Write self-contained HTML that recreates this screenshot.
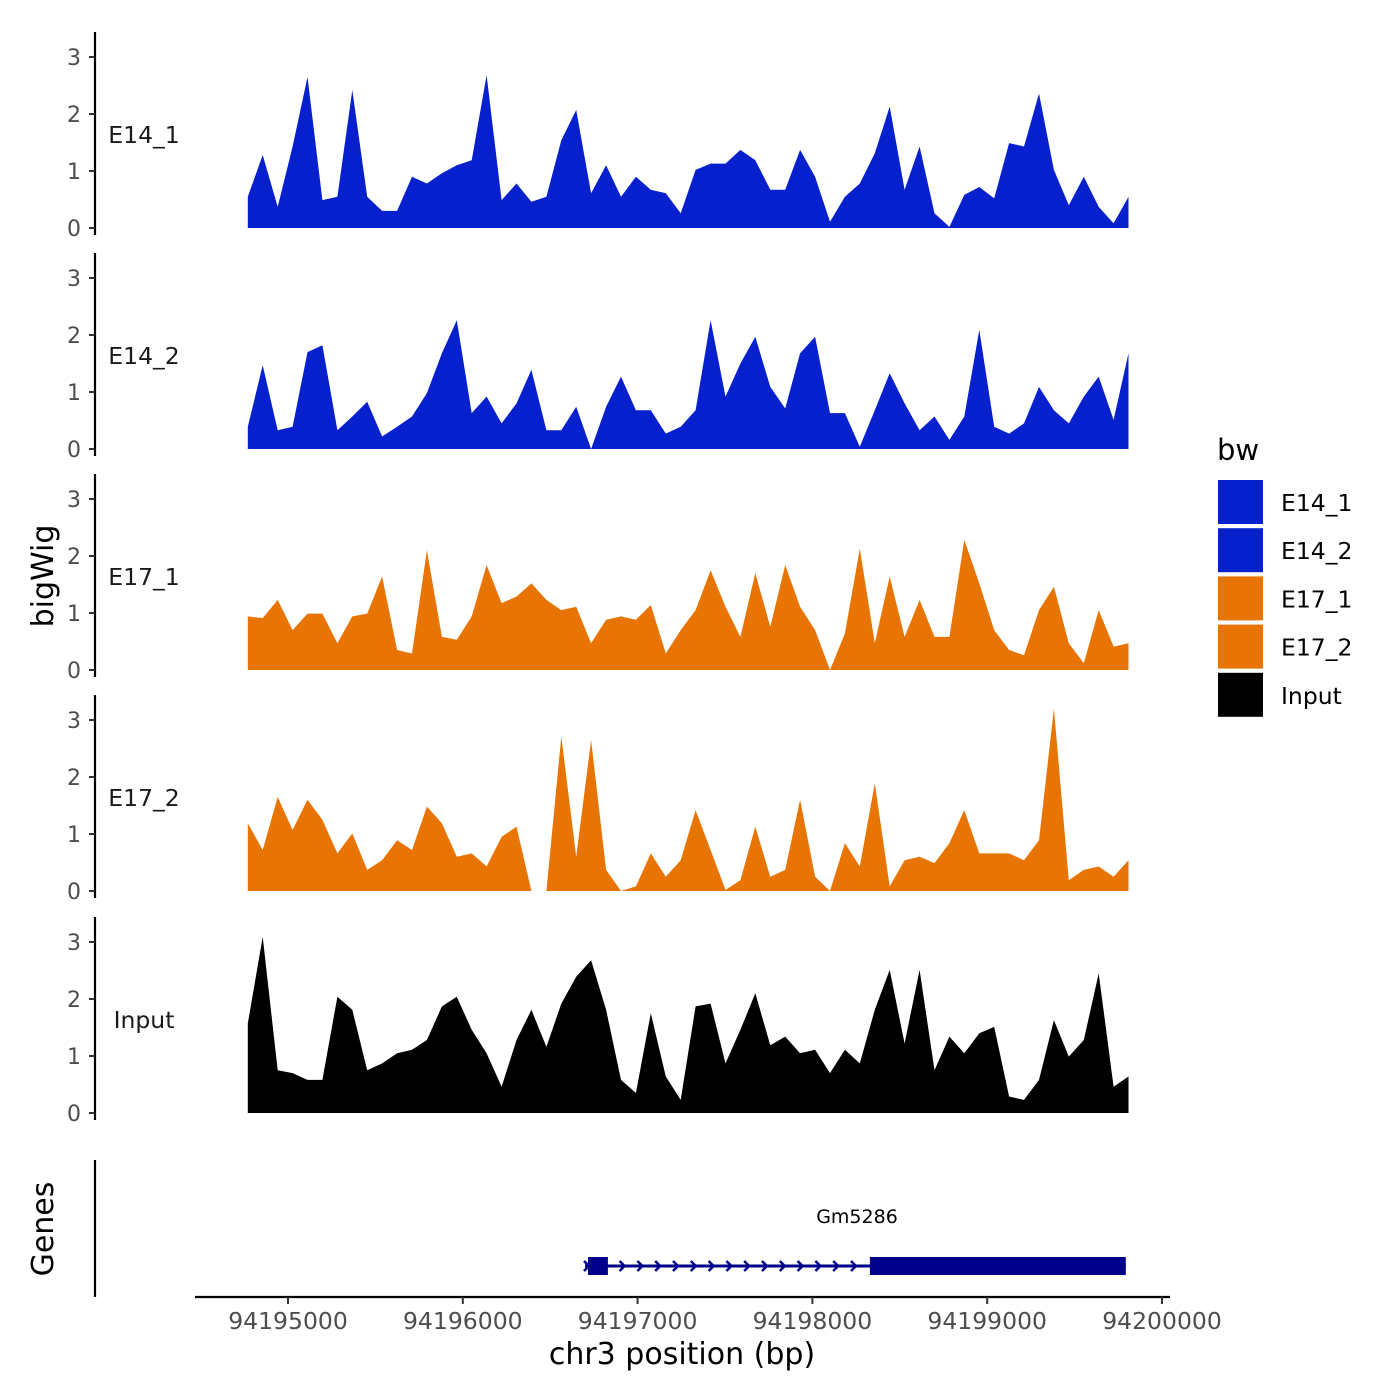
<!DOCTYPE html>
<html><head><meta charset="utf-8"><style>
html,body{margin:0;padding:0;background:#fff;}
svg{display:block;font-family:"DejaVu Sans","Liberation Sans",sans-serif;}
</style></head><body>
<svg id="chart" width="1400" height="1400" viewBox="0 0 1400 1400" xmlns="http://www.w3.org/2000/svg"></svg>
<script>
const trackNames = ["E14_1","E14_2","E17_1","E17_2","Input"];
const trackColors = ["#0520cc","#0520cc","#e87503","#e87503","#000000"];
const binStart = 94194770;
const binStep = 85.4;
const e14_1 = [0.55,1.28,0.37,1.43,2.65,0.49,0.55,2.42,0.55,0.3,0.3,0.9,0.78,0.96,1.1,1.19,2.68,0.49,0.78,0.46,0.55,1.54,2.07,0.61,1.1,0.55,0.9,0.67,0.61,0.26,1.02,1.13,1.13,1.37,1.19,0.67,0.67,1.37,0.9,0.11,0.55,0.78,1.31,2.13,0.67,1.43,0.26,0.02,0.58,0.72,0.52,1.49,1.43,2.36,1.02,0.4,0.9,0.37,0.08,0.55];
const e14_2 = [0.39,1.47,0.33,0.39,1.7,1.82,0.33,0.57,0.83,0.22,0.39,0.57,0.98,1.68,2.26,0.63,0.92,0.45,0.8,1.39,0.33,0.33,0.74,0,0.74,1.27,0.68,0.68,0.27,0.39,0.68,2.26,0.92,1.5,1.97,1.09,0.71,1.68,1.97,0.63,0.63,0.04,0.68,1.33,0.8,0.33,0.57,0.16,0.57,2.09,0.39,0.27,0.45,1.09,0.68,0.45,0.92,1.27,0.51,1.68];
const e17_1 = [0.94,0.91,1.23,0.7,0.99,0.99,0.47,0.94,0.99,1.64,0.35,0.29,2.1,0.58,0.53,0.94,1.84,1.17,1.29,1.52,1.23,1.05,1.11,0.47,0.88,0.94,0.88,1.14,0.29,0.7,1.05,1.75,1.11,0.58,1.7,0.76,1.84,1.11,0.7,0,0.64,2.13,0.47,1.64,0.58,1.23,0.58,0.58,2.28,1.52,0.7,0.35,0.26,1.05,1.46,0.47,0.12,1.05,0.41,0.47];
const e17_2 = [1.19,0.72,1.65,1.07,1.6,1.25,0.66,1.01,0.37,0.54,0.89,0.72,1.48,1.19,0.6,0.66,0.43,0.95,1.13,0,0,2.71,0.6,2.65,0.37,0,0.08,0.66,0.25,0.54,1.42,0.72,0.02,0.19,1.13,0.25,0.37,1.6,0.25,0,0.84,0.43,1.89,0.08,0.54,0.6,0.49,0.84,1.42,0.66,0.66,0.66,0.54,0.89,3.2,0.19,0.37,0.43,0.25,0.54];
const inputVals = [1.57,3.09,0.75,0.7,0.58,0.58,2.04,1.81,0.75,0.87,1.05,1.11,1.28,1.87,2.04,1.46,1.05,0.46,1.28,1.81,1.16,1.92,2.39,2.68,1.81,0.58,0.35,1.75,0.64,0.23,1.87,1.92,0.87,1.46,2.1,1.19,1.34,1.05,1.11,0.7,1.11,0.87,1.81,2.51,1.22,2.51,0.75,1.34,1.05,1.4,1.51,0.29,0.23,0.58,1.63,0.99,1.28,2.45,0.46,0.64];
const yTicks = [0,1,2,3];
const xTicks = [94195000,94196000,94197000,94198000,94199000,94200000];
const geneName = "Gm5286";
const geneStart = 94196699, geneEnd = 94199793;
const exons = [[94196716,94196830],[94198329,94199793]];

const series = [e14_1,e14_2,e17_1,e17_2,inputVals];
const NS = "http://www.w3.org/2000/svg";
const svg = document.getElementById("chart");
function xs(bp){ return 288 + (bp - 94195000) * 874 / 5000; }
const panelZero = [228,449,670,891,1113];
const unit = 57;
function ys(p,v){ return panelZero[p] - v * unit; }
function mk(tag, attrs, parent){ const e=document.createElementNS(NS,tag); for(const k in attrs) e.setAttribute(k,attrs[k]); (parent||svg).appendChild(e); return e; }

series.forEach((vals,p)=>{
  const g = mk("g",{});
  
  
  const ax = mk("line",{x1:95,x2:95,y1:panelZero[p]-196,y2:panelZero[p]+7,stroke:"#000","stroke-width":2.2},g);
  
  
  yTicks.forEach(t=>{
    const tk = mk("line",{x1:89,x2:95,y1:ys(p,t),y2:ys(p,t),stroke:"#333","stroke-width":2},g);
    
    
    const tl = mk("text",{x:81,y:ys(p,t)+8,"text-anchor":"end","font-size":22,fill:"#4d4d4d"},g);
    tl.textContent = t;
    
    
  });
  const lab = mk("text",{x:144,y:panelZero[p]-85,"text-anchor":"middle","font-size":23.5,fill:"#1a1a1a"},g);
  lab.textContent = trackNames[p];
  
  
  let d = "M" + xs(binStart).toFixed(1) + "," + panelZero[p];
  vals.forEach((v,i)=>{ d += " L" + xs(binStart + i*binStep).toFixed(1) + "," + ys(p,v).toFixed(1); });
  d += " L" + xs(binStart + (vals.length-1)*binStep).toFixed(1) + "," + panelZero[p] + " Z";
  const area = mk("path",{d:d,fill:trackColors[p]},g);
  
  
});

const gg = mk("g",{});


const gax = mk("line",{x1:95,x2:95,y1:1160,y2:1297,stroke:"#000","stroke-width":2.2},gg);


const gl = mk("line",{x1:xs(geneStart),x2:xs(geneEnd),y1:1266,y2:1266,stroke:"#00008b","stroke-width":3},gg);


for(let x=xs(geneStart)+2; x<xs(exons[1][0]); x+=17.8){
  const c = mk("polyline",{points:`${x-3},${1261} ${x+2},${1266} ${x-3},${1271}`,fill:"none",stroke:"#00008b","stroke-width":2.5},gg);
  
  
}
exons.forEach(ex=>{
  const r = mk("rect",{x:xs(ex[0]),y:1257,width:xs(ex[1])-xs(ex[0]),height:18,fill:"#00008b"},gg);
  
  
});
const gn = mk("text",{x:857,y:1223,"text-anchor":"middle","font-size":19,fill:"#000"},gg);
gn.textContent = geneName;



const xg = mk("g",{});


const xl = mk("line",{x1:195,x2:1170,y1:1297,y2:1297,stroke:"#000","stroke-width":2.2},xg);


xTicks.forEach(t=>{
  const tk = mk("line",{x1:xs(t),x2:xs(t),y1:1297,y2:1304,stroke:"#333","stroke-width":2},xg);
  
  
  const tl = mk("text",{x:xs(t),y:1329,"text-anchor":"middle","font-size":23.5,fill:"#4d4d4d"},xg);
  tl.textContent = t;
  
  
});
const xt = mk("text",{x:682,y:1364,"text-anchor":"middle","font-size":30,fill:"#000"},xg);
xt.textContent = "chr3 position (bp)";



const yt = mk("text",{x:0,y:0,"text-anchor":"middle","font-size":30,fill:"#000",transform:"translate(53,576) rotate(-90)"});
yt.textContent = "bigWig";


const gt = mk("text",{x:0,y:0,"text-anchor":"middle","font-size":30,fill:"#000",transform:"translate(53,1229) rotate(-90)"});
gt.textContent = "Genes";



const lg = mk("g",{});


const lt = mk("text",{x:1217,y:460,"font-size":29,fill:"#000"},lg);
lt.textContent = "bw";


trackNames.forEach((n,i)=>{
  const y = 480 + i*48.2;
  const r = mk("rect",{x:1218,y:y,width:45,height:44,fill:trackColors[i]},lg);
  
  
  const t = mk("text",{x:1281,y:y+31,"font-size":23.5,fill:"#000"},lg);
  t.textContent = n;
  
  
});
</script>
</body></html>
